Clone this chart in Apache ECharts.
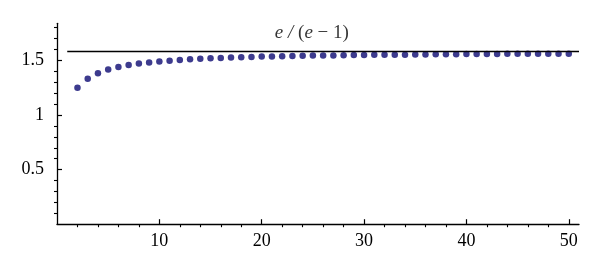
<!DOCTYPE html>
<html>
<head>
<meta charset="utf-8">
<script src="https://cdn.jsdelivr.net/npm/echarts@6/dist/echarts.min.js"></script>
<style>html,body{margin:0;padding:0;background:#fff}#c{width:600px;height:274px}</style>
</head>
<body>
<div id="c"></div>
<script>
const nValues = [2,3,4,5,6,7,8,9,10,11,12,13,14,15,16,17,18,19,20,21,22,23,24,25,26,27,28,29,30,31,32,33,34,35,36,37,38,39,40,41,42,43,44,45,46,47,48,49,50];
const sValues = [1.250,1.333,1.383,1.416,1.440,1.457,1.471,1.482,1.491,1.498,1.505,1.511,1.516,1.520,1.523,1.527,1.530,1.532,1.535,1.537,1.539,1.540,1.542,1.544,1.545,1.546,1.548,1.549,1.550,1.551,1.552,1.553,1.553,1.554,1.555,1.556,1.556,1.557,1.558,1.558,1.559,1.559,1.560,1.560,1.561,1.561,1.562,1.562,1.562];
const limitValue = 1.582;
const limitLineX = [1, 51];
const limitLabelPos = [24.9, 1.75];
const xMajorTicks = [10,20,30,40,50];
const xMinorTicks = [2,4,6,8,12,14,16,18,22,24,26,28,32,34,36,38,42,44,46,48];
const yMajorTicks = [0.5,1,1.5];
const yMinorTicks = [0.1,0.2,0.3,0.4,0.6,0.7,0.8,0.9,1.1,1.2,1.3,1.4,1.6,1.7,1.8];
const yLabels = {0.5:'0.5',1:'1',1.5:'1.5'};

const font = 'Liberation Serif';
const chart = echarts.init(document.getElementById('c'), null, {renderer:'canvas'});
const axisLine = {show:true, lineStyle:{color:'#000', width:1.3}};
chart.setOption({
  animation:false,
  grid:{left:57, right:21, top:23.3, bottom:49.8},
  xAxis:[
    {type:'value', min:0, max:51, axisLine:axisLine, splitLine:{show:false},
     axisTick:{show:true, inside:true, length:5, customValues:xMajorTicks, lineStyle:{color:'#000', width:1.2}},
     axisLabel:{customValues:xMajorTicks, color:'#000', fontFamily:font, fontSize:18, margin:8}},
    {type:'value', min:0, max:51, axisLine:{show:false}, splitLine:{show:false},
     axisTick:{show:true, inside:true, length:3, customValues:xMinorTicks, lineStyle:{color:'#000', width:1.1}},
     axisLabel:{show:false}}
  ],
  yAxis:[
    {type:'value', min:0, max:1.84, axisLine:axisLine, splitLine:{show:false},
     axisTick:{show:true, inside:true, length:5, customValues:yMajorTicks, lineStyle:{color:'#000', width:1.2}},
     axisLabel:{customValues:yMajorTicks, color:'#000', fontFamily:font, fontSize:18, margin:13,
       formatter:v=>yLabels[v] || ''}},
    {type:'value', min:0, max:1.84, axisLine:{show:false}, splitLine:{show:false},
     axisTick:{show:true, inside:true, length:3, customValues:yMinorTicks, lineStyle:{color:'#000', width:1.1}},
     axisLabel:{show:false}}
  ],
  series:[
    {type:'line', xAxisIndex:0, yAxisIndex:0, showSymbol:false, symbol:'none',
     data:limitLineX.map(x=>[x, limitValue]), lineStyle:{color:'#000', width:1.5}, silent:true},
    {type:'scatter', xAxisIndex:0, yAxisIndex:0, symbolSize:6.5,
     itemStyle:{color:'#3d3b8e', opacity:1},
     data:nValues.map((n,i)=>[n, sValues[i]])},
    {type:'scatter', xAxisIndex:0, yAxisIndex:0, symbolSize:0, data:[limitLabelPos],
     label:{show:true, position:'inside', formatter:'{i|e}{i| / }{n|(}{i|e}{n| − 1)}',
       rich:{i:{fontFamily:font, fontStyle:'italic', fontSize:19, color:'#000'},
             n:{fontFamily:font, fontSize:19, color:'#000'}}}}
  ]
});
</script>
</body>
</html>
